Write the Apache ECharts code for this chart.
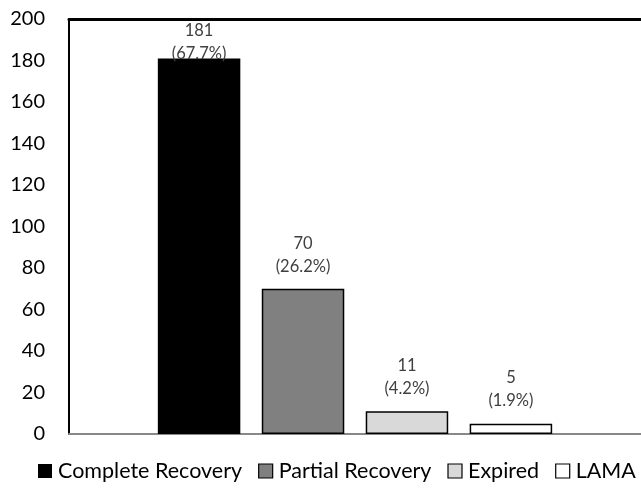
<!DOCTYPE html>
<html>
<head>
<meta charset="utf-8">
<script src="https://cdn.jsdelivr.net/npm/echarts@6/dist/echarts.min.js"></script>
<style>
html,body{margin:0;padding:0;background:#fff;}
#chart{width:641px;height:499px;}
</style>
</head>
<body>
<div id="chart"></div>
<script>
const categories = ['Outcome'];
const seriesNames = ['Complete Recovery', 'Partial Recovery', 'Expired', 'LAMA'];
const seriesValues = [181, 70, 11, 5];
const seriesPercents = ['67.7%', '26.2%', '4.2%', '1.9%'];
const yTicks = [0, 20, 40, 60, 80, 100, 120, 140, 160, 180, 200];

const colors = ['#000000', '#808080', '#d9d9d9', '#ffffff'];
const FONT = 'Lato, "Open Sans", sans-serif';

const chart = echarts.init(document.getElementById('chart'), null, {renderer: 'canvas'});

const series = seriesNames.map((name, i) => ({
  name: name,
  type: 'bar',
  data: [{
    value: seriesValues[i],
    label: {distance: i === 0 ? -6.5 : 11}
  }],
  barWidth: 82.5,
  barGap: '26%',
  itemStyle: {
    color: colors[i],
    borderColor: '#000000',
    borderWidth: i === 0 ? 0 : 1.5
  },
  label: {
    show: true,
    position: 'top',
    color: '#404040',
    fontFamily: FONT,
    fontSize: 16.5,
    lineHeight: 23,
    formatter: () => seriesValues[i] + '\n(' + seriesPercents[i] + ')'
  }
}));

chart.setOption({
  animation: false,
  backgroundColor: '#ffffff',
  grid: {left: 69, right: -3, top: 19, bottom: 65, containLabel: false},
  legend: {
    data: seriesNames.map((n, i) => ({
      name: n,
      itemStyle: {color: colors[i], borderColor: '#000', borderWidth: i === 0 ? 0 : 1.2}
    })),
    left: 38,
    top: 460,
    width: 900,
    padding: 0,
    itemWidth: 14,
    itemHeight: 14,
    itemGap: 16,
    icon: 'rect',
    textStyle: {fontFamily: FONT, fontSize: 21.5, color: '#000000', padding: [0, 0, 0, 1]}
  },
  xAxis: [{
    type: 'category',
    data: categories,
    position: 'bottom',
    axisLine: {show: true, lineStyle: {color: '#888888', width: 2}},
    axisTick: {show: false},
    axisLabel: {show: false}
  }, {
    type: 'category',
    data: categories,
    position: 'top',
    axisLine: {show: true, lineStyle: {color: '#000000', width: 3}},
    axisTick: {show: false},
    axisLabel: {show: false}
  }],
  yAxis: {
    type: 'value',
    min: yTicks[0],
    max: yTicks[yTicks.length - 1],
    interval: 20,
    axisLine: {show: true, lineStyle: {color: '#000000', width: 2}},
    axisTick: {show: false},
    splitLine: {show: false},
    axisLabel: {
      margin: 24,
      color: '#000000',
      fontFamily: FONT,
      fontSize: 20
    }
  },
  series: series
});
</script>
</body>
</html>
